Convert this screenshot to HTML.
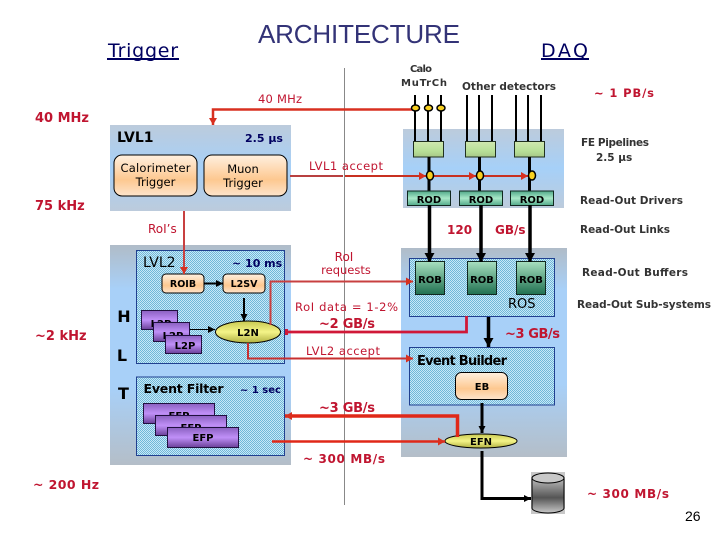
<!DOCTYPE html>
<html><head><meta charset="utf-8"><style>
html,body{margin:0;padding:0;background:#fff;width:720px;height:540px;overflow:hidden}
svg{display:block}
text{font-family:"DejaVu Sans",sans-serif;letter-spacing:0}
.r{fill:#c01530;font-size:12px;font-weight:bold}
.r2{fill:#c01530;font-size:12px}
.g{fill:#333;font-size:10.5px;font-weight:bold}
.k{fill:#000;font-size:10px;font-weight:bold;text-anchor:middle}
.n{fill:#000060;font-size:11px;font-weight:bold}
</style></head><body>
<svg width="720" height="540" viewBox="0 0 720 540" xmlns="http://www.w3.org/2000/svg">
<defs>
<linearGradient id="pan" x1="0" y1="0" x2="0" y2="1"><stop offset="0" stop-color="#bccbdc"/><stop offset=".5" stop-color="#a6d0f8"/><stop offset="1" stop-color="#bccbdc"/></linearGradient>
<linearGradient id="pan2" x1="0" y1="0" x2="0" y2="1"><stop offset="0" stop-color="#b0bcc8"/><stop offset=".2" stop-color="#a8d0f8"/><stop offset=".65" stop-color="#a8d0f8"/><stop offset="1" stop-color="#b4bec8"/></linearGradient>
<linearGradient id="org" x1="0" y1="0" x2="0" y2="1"><stop offset="0" stop-color="#fff0e0"/><stop offset=".6" stop-color="#fdc890"/><stop offset="1" stop-color="#fde4cc"/></linearGradient>
<linearGradient id="pur" x1="0" y1="0" x2="0" y2="1"><stop offset="0" stop-color="#8a60c0"/><stop offset=".5" stop-color="#c090f8"/><stop offset="1" stop-color="#6a4098"/></linearGradient>
<linearGradient id="yel" x1="0" y1="0" x2="0" y2="1"><stop offset="0" stop-color="#c8c850"/><stop offset=".5" stop-color="#f4f488"/><stop offset="1" stop-color="#b0b040"/></linearGradient>
<linearGradient id="grn" x1="0" y1="0" x2="0" y2="1"><stop offset="0" stop-color="#d0e8b0"/><stop offset=".6" stop-color="#b8e098"/><stop offset="1" stop-color="#a8c888"/></linearGradient>
<linearGradient id="rod" x1="0" y1="0" x2="0" y2="1"><stop offset="0" stop-color="#50a888"/><stop offset=".5" stop-color="#a8e8c8"/><stop offset="1" stop-color="#50a888"/></linearGradient>
<linearGradient id="rob" x1="0" y1="0" x2="0" y2="1"><stop offset="0" stop-color="#a8e0c0"/><stop offset="1" stop-color="#207050"/></linearGradient>
<linearGradient id="cyl" x1="0" y1="0" x2="0" y2="1"><stop offset="0" stop-color="#b8b8b8"/><stop offset=".55" stop-color="#555"/><stop offset="1" stop-color="#c8c8c8"/></linearGradient>
<pattern id="h" width="2" height="2" patternUnits="userSpaceOnUse"><rect width="2" height="2" fill="#c8e8f8"/><rect width="1" height="1" fill="#70b8d8"/><rect x="1" y="1" width="1" height="1" fill="#70b8d8"/></pattern>
<marker id="ar" markerUnits="userSpaceOnUse" markerWidth="8" markerHeight="8" refX="7" refY="4" orient="auto"><path d="M0,0L7,4L0,8Z" fill="#d83020"/></marker>
<marker id="ak" markerUnits="userSpaceOnUse" markerWidth="9" markerHeight="10" refX="9" refY="5" orient="auto"><path d="M0,0L9,5L0,10Z" fill="#000"/></marker>
<marker id="as" markerUnits="userSpaceOnUse" markerWidth="7" markerHeight="7" refX="7" refY="3.500" orient="auto"><path d="M0,0L7,3.500L0,7Z" fill="#000"/></marker>
</defs>

<text x="258" y="43" style="font-family:'Liberation Sans',sans-serif;font-size:26px;fill:#333377" textLength="202">ARCHITECTURE</text>
<text x="108" y="57" style="font-size:19px;fill:#000060" textLength="70">Trigger</text>
<rect x="107" y="58" width="72" height="2" fill="#000060"/>
<text x="541" y="57" style="font-size:19px;fill:#000060" textLength="47">DAQ</text>
<rect x="541" y="58" width="48" height="2" fill="#000060"/>

<line x1="344.5" y1="68" x2="344.5" y2="505" stroke="#888" stroke-width="1"/>

<!-- Panels -->
<rect x="110" y="125" width="181" height="86" fill="url(#pan)"/>
<rect x="110" y="245" width="181" height="220" fill="url(#pan2)"/>
<rect x="403" y="129" width="161" height="79" fill="url(#pan)"/>
<rect x="401" y="248" width="166" height="209" fill="url(#pan2)"/>

<!-- LVL1 -->
<text x="117" y="142" style="font-size:14px;font-weight:bold;fill:#000">LVL1</text>
<text x="245" y="142" class="n">2.5 µs</text>
<rect x="114" y="155" width="83" height="41" rx="8" fill="url(#org)" stroke="#000"/>
<rect x="204" y="155" width="83" height="41" rx="8" fill="url(#org)" stroke="#000"/>
<text x="155.500" y="172" class="k" style="font-size:11.5px;font-weight:normal" textLength="70">Calorimeter</text>
<text x="155.500" y="186" class="k" style="font-size:11.5px;font-weight:normal">Trigger</text>
<text x="243" y="173" class="k" style="font-size:11.5px;font-weight:normal">Muon</text>
<text x="243" y="187" class="k" style="font-size:11.5px;font-weight:normal">Trigger</text>

<!-- LVL2 -->
<rect x="136.500" y="250.500" width="148" height="113" fill="url(#h)" stroke="#204090"/>
<text x="143" y="267" style="font-size:14px;fill:#000">LVL2</text>
<text x="232" y="267" class="n">~ 10 ms</text>
<rect x="162" y="274" width="42" height="19" rx="4" fill="url(#org)" stroke="#000"/>
<rect x="223" y="274" width="42" height="19" rx="4" fill="url(#org)" stroke="#000"/>
<text x="183" y="287" class="k" style="font-size:9.500px">ROIB</text>
<text x="244" y="287" class="k" style="font-size:9.500px">L2SV</text>
<line x1="204" y1="283.500" x2="223" y2="283.500" stroke="#000" stroke-width="2" marker-end="url(#as)"/>
<line x1="244" y1="298" x2="244" y2="321" stroke="#000" stroke-width="2" marker-end="url(#as)"/>
<rect x="141.500" y="310.500" width="36" height="19" fill="url(#pur)" stroke="#201040"/>
<text x="161" y="327" class="k">L2P</text>
<rect x="153.500" y="322.500" width="36" height="19" fill="url(#pur)" stroke="#201040"/>
<text x="173" y="339" class="k">L2P</text>
<rect x="165.500" y="335.500" width="36" height="18" fill="url(#pur)" stroke="#201040"/>
<text x="185" y="349" class="k">L2P</text>
<line x1="190" y1="329.500" x2="215" y2="329.500" stroke="#000" stroke-width="1" marker-end="url(#as)"/>
<ellipse cx="248" cy="332" rx="32.500" ry="11" fill="url(#yel)" stroke="#000"/>
<text x="248" y="336" class="k">L2N</text>

<text x="124" y="322" style="font-size:16px;font-weight:bold;fill:#000" text-anchor="middle">H</text>
<text x="122" y="361" style="font-size:16px;font-weight:bold;fill:#000" text-anchor="middle">L</text>
<text x="123.500" y="399" style="font-size:16px;font-weight:bold;fill:#000" text-anchor="middle">T</text>

<!-- EF -->
<rect x="136.500" y="377" width="148" height="78.500" fill="url(#h)" stroke="#204090"/>
<text x="143.500" y="393" style="font-size:12.500px;font-weight:bold;fill:#000" textLength="80">Event Filter</text>
<text x="240" y="393" class="n" style="font-size:10px">~ 1 sec</text>
<rect x="143.500" y="403.500" width="71" height="20" fill="url(#pur)" stroke="#201040"/>
<text x="179" y="419" class="k">EFP</text>
<rect x="155.500" y="415.500" width="71" height="20" fill="url(#pur)" stroke="#201040"/>
<text x="191" y="431" class="k">EFP</text>
<rect x="167.500" y="427.500" width="71" height="20" fill="url(#pur)" stroke="#201040"/>
<text x="203" y="441" class="k">EFP</text>

<!-- DAQ top -->
<path d="M415 95V141M428 95V141M441 95V141M467 95V141M479 95V141M492 95V141M516 95V141M528 95V141M541 95V141" fill="none" stroke="#000" stroke-width="2"/>
<g fill="url(#grn)" stroke="#203020"><rect x="413.500" y="141.500" width="30" height="15.500"/><rect x="465.500" y="141.500" width="30" height="15.500"/><rect x="514.500" y="141.500" width="30" height="15.500"/></g>
<path d="M429 157V191M479.500 157V191M529.500 157V191" stroke="#000" stroke-width="3"/>
<g fill="url(#rod)" stroke="#102820"><rect x="407.500" y="191" width="43" height="14.500"/><rect x="459.500" y="191" width="43" height="14.500"/><rect x="510.500" y="191" width="43" height="14.500"/></g>
<text x="429" y="203" class="k">ROD</text><text x="481" y="203" class="k">ROD</text><text x="532" y="203" class="k">ROD</text>

<!-- ROS -->
<rect x="409.500" y="258.500" width="145" height="58" fill="url(#h)" stroke="#204090"/>
<g fill="url(#rob)" stroke="#102820"><rect x="415.500" y="261.500" width="29" height="33"/><rect x="467.500" y="261.500" width="29" height="33"/><rect x="516.500" y="261.500" width="29" height="33"/></g>
<text x="430" y="283" class="k">ROB</text><text x="482" y="283" class="k">ROB</text><text x="531" y="283" class="k">ROB</text>
<text x="508" y="308" style="font-size:13px;fill:#000">ROS</text>
<g stroke="#000" stroke-width="3.500" fill="none"><path d="M429.500 205V262" marker-end="url(#ak)"/><path d="M481 205V262" marker-end="url(#ak)"/><path d="M530 205V262" marker-end="url(#ak)"/><path d="M488.500 317V347" marker-end="url(#ak)"/></g>

<!-- EB -->
<rect x="409.500" y="347.500" width="145" height="57.500" fill="url(#h)" stroke="#204090"/>
<text x="417" y="365" style="font-size:13px;font-weight:bold;fill:#000" textLength="90">Event Builder</text>
<rect x="455.500" y="372.500" width="52" height="27" rx="6" fill="url(#org)" stroke="#000"/>
<text x="482" y="390" class="k">EB</text>
<path d="M482 403V433" stroke="#000" stroke-width="3" marker-end="url(#as)"/>
<ellipse cx="481" cy="441" rx="36" ry="7" fill="url(#yel)" stroke="#000"/>
<text x="481" y="445" class="k">EFN</text>
<path d="M482 451V498.500H531" fill="none" stroke="#000" stroke-width="3" marker-end="url(#as)"/>

<!-- Cylinder -->
<rect x="531" y="472" width="34" height="42" fill="#c8c8c8"/>
<path d="M532 479V508A16 5 0 0 0 564 508V479Z" fill="url(#cyl)" stroke="#000"/>
<ellipse cx="548" cy="478" rx="16" ry="5" fill="#c8c8c8" stroke="#000"/>

<!-- Red lines -->
<path d="M415 109.500H213V125" fill="none" stroke="#d83020" stroke-width="2.500" marker-end="url(#ar)"/>
<path d="M290 176H343" stroke="#b84040" stroke-width="2" fill="none"/>
<path d="M345 176H426" stroke="#c83020" stroke-width="2" fill="none" marker-end="url(#ar)"/>
<path d="M432 176H476" stroke="#c83020" stroke-width="2" fill="none" marker-end="url(#ar)"/>
<path d="M484 176H528" stroke="#c83020" stroke-width="2" fill="none" marker-end="url(#ar)"/>
<path d="M184 211V274" stroke="#c84040" stroke-width="2" marker-end="url(#ar)"/>
<path d="M270.500 325V281.500H413" fill="none" stroke="#c84040" stroke-width="2" marker-end="url(#ar)"/>
<path d="M466.500 316V332H286" fill="none" stroke="#d01838" stroke-width="2.800"/>
<rect x="285" y="329" width="3" height="6" fill="#d01838"/>
<path d="M248 343V358.500H413" fill="none" stroke="#c83030" stroke-width="2" marker-end="url(#ar)"/>
<path d="M457.500 437V416H285" fill="none" stroke="#e02818" stroke-width="3.500" marker-end="url(#ar)"/>
<path d="M272 441.500H445" fill="none" stroke="#e02818" stroke-width="2.500" marker-end="url(#ar)"/>

<!-- Dots -->
<g fill="#f8d020" stroke="#000" stroke-width="1.500">
<ellipse cx="415.500" cy="108" rx="4" ry="3"/><ellipse cx="428.500" cy="108" rx="4" ry="3"/><ellipse cx="441" cy="108" rx="4" ry="3"/>
<ellipse cx="430" cy="175.500" rx="3.500" ry="4.500"/><ellipse cx="480" cy="175.500" rx="3.500" ry="4.500"/><ellipse cx="532" cy="175.500" rx="3.500" ry="4.500"/>
</g>

<!-- Labels -->
<text x="35" y="122" class="r" style="font-size:13px">40 MHz</text>
<text x="258" y="103" class="r2" style="font-size:11.500px" textLength="44">40 MHz</text>
<text x="410" y="72" class="g" style="font-size:10px" textLength="22">Calo</text>
<text x="401" y="86" class="g" style="font-size:10px" textLength="46">MuTrCh</text>
<text x="462" y="90" class="g" style="font-size:10.500px" textLength="94">Other detectors</text>
<text x="594" y="97" class="r" style="font-size:11.500px" textLength="60">~ 1 PB/s</text>
<text x="581" y="146" class="g" textLength="68">FE Pipelines</text>
<text x="596" y="161" class="g">2.5 µs</text>
<text x="309" y="170" class="r2" style="font-size:11.500px" textLength="74">LVL1 accept</text>
<text x="580" y="204" class="g" textLength="103">Read-Out Drivers</text>
<text x="35" y="210" class="r" style="font-size:13px">75 kHz</text>
<text x="148" y="233" class="r2">RoI’s</text>
<text x="447" y="234" class="r">120</text>
<text x="495" y="234" class="r">GB/s</text>
<text x="580" y="233" class="g" textLength="90">Read-Out Links</text>
<text x="344" y="261" class="r2" text-anchor="middle">RoI</text>
<text x="346" y="274" class="r2" text-anchor="middle" style="font-size:11.500px">requests</text>
<text x="582" y="276" class="g" textLength="106">Read-Out Buffers</text>
<text x="577" y="308" class="g" textLength="134">Read-Out Sub-systems</text>
<text x="295" y="311" class="r2" style="font-size:11.500px" textLength="103">RoI data = 1-2%</text>
<text x="319" y="328" class="r" style="font-size:13px" textLength="56">~2 GB/s</text>
<text x="505" y="338" class="r" style="font-size:13px" textLength="55">~3 GB/s</text>
<text x="35" y="340" class="r" style="font-size:13px">~2 kHz</text>
<text x="306" y="355" class="r2" style="font-size:11.500px" textLength="74">LVL2 accept</text>
<text x="319" y="412" class="r" style="font-size:13px" textLength="56">~3 GB/s</text>
<text x="303" y="463" class="r" style="font-size:12px" textLength="82">~ 300 MB/s</text>
<text x="33" y="489" class="r" style="font-size:12.500px" textLength="66">~ 200 Hz</text>
<text x="587" y="498" class="r" style="font-size:12px" textLength="82">~ 300 MB/s</text>
<text x="685" y="521" style="font-family:'Liberation Sans',sans-serif;font-size:14px;fill:#000">26</text>
</svg>
</body></html>
